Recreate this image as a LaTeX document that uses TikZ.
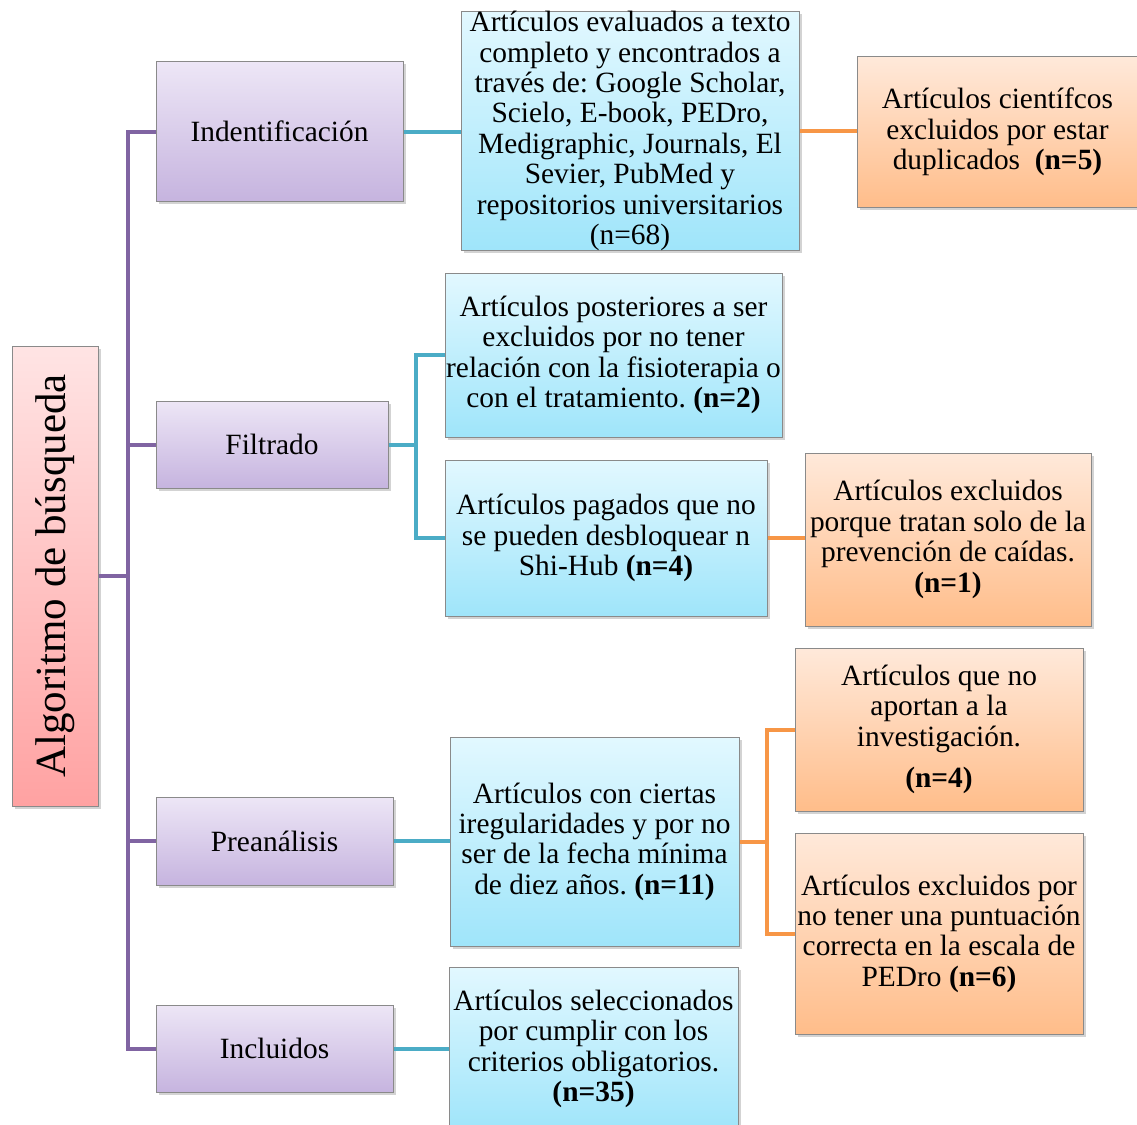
\documentclass[tikz,border=0pt]{standalone}
\usepackage{fontspec}
\setmainfont{Liberation Serif}
\usetikzlibrary{shadows}
\frenchspacing
\definecolor{lpurple}{HTML}{8064A2}
\definecolor{lteal}{HTML}{4BACC6}
\definecolor{lorange}{HTML}{F79646}
\definecolor{ptop}{HTML}{EDE6F6}
\definecolor{pbot}{HTML}{C6B4DF}
\definecolor{btop}{HTML}{E2F8FF}
\definecolor{bbot}{HTML}{9FE5FA}
\definecolor{otop}{HTML}{FFE9DA}
\definecolor{obot}{HTML}{FFBD8A}
\definecolor{rtop}{HTML}{FFE4E4}
\definecolor{rbot}{HTML}{FFA2A2}
\definecolor{bord}{HTML}{8A8A8A}
\tikzset{
  x=1pt,y=-1pt,
  basebox/.style={draw=bord,line width=1pt,rectangle,inner sep=0pt,align=center,
    font=\fontsize{29.4}{30.4}\selectfont,
    drop shadow={opacity=0.35,shadow xshift=2.5pt,shadow yshift=-2.5pt}},
  pbox/.style={basebox,top color=ptop,bottom color=pbot},
  bbox/.style={basebox,top color=btop,bottom color=bbot},
  obox/.style={basebox,top color=otop,bottom color=obot},
  rbox/.style={basebox,top color=rtop,bottom color=rbot},
  pline/.style={draw=lpurple,line width=4pt},
  tline/.style={draw=lteal,line width=4pt},
  oline/.style={draw=lorange,line width=4pt},
}
\begin{document}
\begin{tikzpicture}
\useasboundingbox (0,0) rectangle (1137,1124);
% main
\node[rbox,minimum width=86pt,minimum height=460pt] (main) at (55,576) {};
\node[rotate=90,font=\fontsize{43}{48}\selectfont] (maintxt) at (main.center) {Algoritmo de búsqueda};
% purple
\node[pbox,minimum width=247pt,minimum height=139pt] (ind) at (279.5,131.5) {Indentificación};
\node[pbox,minimum width=232pt,minimum height=87pt] (fil) at (272,444.5) {Filtrado};
\node[pbox,minimum width=237pt,minimum height=88pt] (pre) at (274.5,841) {Preanálisis};
\node[pbox,minimum width=237pt,minimum height=87pt] (inc) at (274.5,1048.5) {Incluidos};
% blue
\node[bbox,minimum width=338pt,minimum height=238pt] (b1) at (630,131)
 {Artículos evaluados a texto\\completo y encontrados a\\través de: Google Scholar,\\Scielo, E-book, PEDro,\\Medigraphic, Journals, El\\Sevier, PubMed y\\repositorios universitarios\\(n=68)};
\node[bbox,minimum width=337pt,minimum height=164pt] (b2) at (613.5,355)
 {Artículos posteriores a ser\\excluidos por no tener\\relación con la fisioterapia o\\con el tratamiento. \textbf{(n=2)}};
\node[bbox,minimum width=322pt,minimum height=156pt] (b3) at (606,538)
 {Artículos pagados que no\\se pueden desbloquear n\\Shi-Hub \textbf{(n=4)}};
\node[bbox,minimum width=289pt,minimum height=209pt] (b4) at (594.5,841.5)
 {Artículos con ciertas\\iregularidades y por no\\ser de la fecha mínima\\de diez años. \textbf{(n=11)}};
\node[bbox,minimum width=289pt,minimum height=164pt] (b5) at (593.5,1049)
 {Artículos seleccionados\\por cumplir con los\\criterios obligatorios.\\\textbf{(n=35)}};
% orange
\node[obox,minimum width=281pt,minimum height=150pt] (o1) at (997.5,132)
 {Artículos científcos\\excluidos por estar\\duplicados\ \ \textbf{(n=5)}};
\node[obox,minimum width=286pt,minimum height=173pt] (o2) at (948,539.5)
 {Artículos excluidos\\porque tratan solo de la\\prevención de caídas.\\\textbf{(n=1)}};
\node[obox,minimum width=288pt,minimum height=163pt] (o3) at (939,729.5)
 {Artículos que no\\aportan a la\\investigación.\\[11pt]\textbf{(n=4)}};
\node[obox,minimum width=288pt,minimum height=201pt] (o4) at (939,933.5)
 {Artículos excluidos por\\no tener una puntuación\\correcta en la escala de\\PEDro \textbf{(n=6)}};
% trunk
\coordinate (t) at (128,576);
\draw[pline] (main.east) -- (t);
\draw[pline] (ind.west) -| (t) |- (inc.west);
\draw[pline] (t) |- (fil.west);
\draw[pline] (t) |- (pre.west);
% teal connectors
\draw[tline] (ind.east) -- (ind.east -| b1.west);
\coordinate (f1) at (416,444.5);
\draw[tline] (fil.east) -- (f1);
\draw[tline] (b2.west) -| (f1) |- (b3.west);
\draw[tline] (pre.east) -- (pre.east -| b4.west);
\draw[tline] (inc.east) -- (inc.east -| b5.west);
% orange connectors
\draw[oline] (b1.east) -- (b1.east -| o1.west);
\draw[oline] (b3.east) -- (b3.east -| o2.west);
\coordinate (f2) at (767,841.5);
\draw[oline] (b4.east) -- (f2);
\draw[oline] (o3.west) -| (f2) |- (o4.west);
\end{tikzpicture}
\end{document}
